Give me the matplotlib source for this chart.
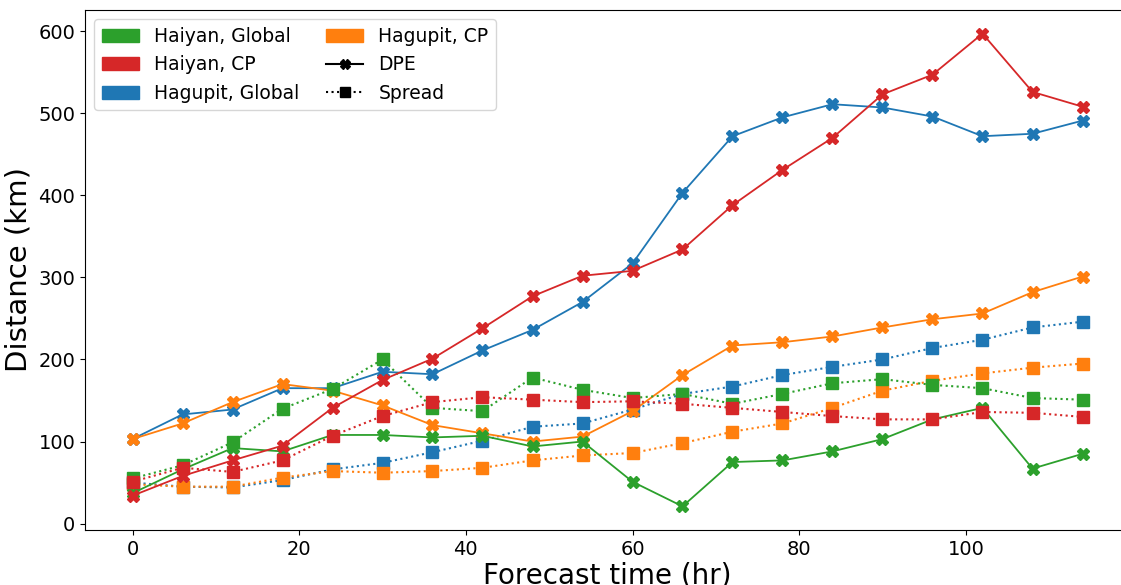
import matplotlib
matplotlib.use("Agg")
import matplotlib.pyplot as plt
from matplotlib.patches import Patch
from matplotlib.lines import Line2D

hours = list(range(0, 115, 6))

# DPE (solid lines)
dpe_haiyan_global = [37, 66, 92, 88, 108, 108, 105, 107, 94, 100,
                     51, 21, 75, 77, 88, 103, 127, 141, 67, 85]
dpe_haiyan_cp = [34, 58, 77, 95, 141, 175, 201, 238, 277, 302,
                 308, 334, 388, 431, 470, 523, 547, 597, 526, 508]
dpe_hagupit_global = [103, 133, 139, 165, 165, 185, 182, 211, 236, 270,
                      317, 403, 472, 495, 511, 507, 496, 472, 475, 491]
dpe_hagupit_cp = [103, 122, 148, 170, 162, 144, 120, 110, 100, 106,
                  137, 181, 217, 221, 228, 239, 249, 256, 282, 301]

# Spread (dotted lines)
spr_haiyan_global = [55, 71, 99, 140, 164, 200, 141, 137, 178, 163,
                     153, 158, 146, 158, 171, 176, 169, 165, 153, 151]
spr_haiyan_cp = [51, 68, 63, 77, 107, 131, 148, 154, 151, 148,
                 149, 146, 141, 136, 131, 127, 127, 136, 135, 130]
spr_hagupit_global = [50, 45, 44, 53, 66, 74, 87, 101, 118, 122,
                      139, 158, 167, 181, 191, 200, 214, 224, 239, 246]
spr_hagupit_cp = [48, 45, 45, 56, 64, 62, 64, 68, 77, 83,
                  86, 98, 112, 122, 141, 162, 174, 183, 190, 195]

labels = ["Haiyan, Global", "Haiyan, CP", "Hagupit, Global", "Hagupit, CP"]
colors = ["tab:green", "tab:red", "tab:blue", "tab:orange"]

fig = plt.figure(figsize=(11.21, 5.85), dpi=100)
ax = fig.add_axes([85 / 1121, 55 / 585, 1045 / 1121, 520 / 585])

# draw order: Hagupit first, Haiyan on top
series = [
    (dpe_hagupit_global, spr_hagupit_global, "tab:blue"),
    (dpe_hagupit_cp, spr_hagupit_cp, "tab:orange"),
    (dpe_haiyan_global, spr_haiyan_global, "tab:green"),
    (dpe_haiyan_cp, spr_haiyan_cp, "tab:red"),
]
for dpe, spr, c in series:
    ax.plot(hours, dpe, '-', color=c, marker='X', markersize=8, lw=1.3)
    ax.plot(hours, spr, ':', color=c, marker='s', markersize=8, lw=1.5)

ax.tick_params(labelsize=14)
ax.set_xlabel("Forecast time (hr)", fontsize=20, labelpad=2)
ax.set_ylabel("Distance (km)", fontsize=21)

handles = [Patch(color=c, label=l) for l, c in zip(labels, colors)]
handles.append(Line2D([], [], color='k', ls='-', marker='X', markersize=7, label="DPE"))
handles.append(Line2D([], [], color='k', ls=':', marker='s', markersize=7, label="Spread"))
ax.legend(handles=handles, ncol=2, loc='upper left', fontsize=13.5,
          columnspacing=1.4)

fig.savefig("out.png", dpi=100)
